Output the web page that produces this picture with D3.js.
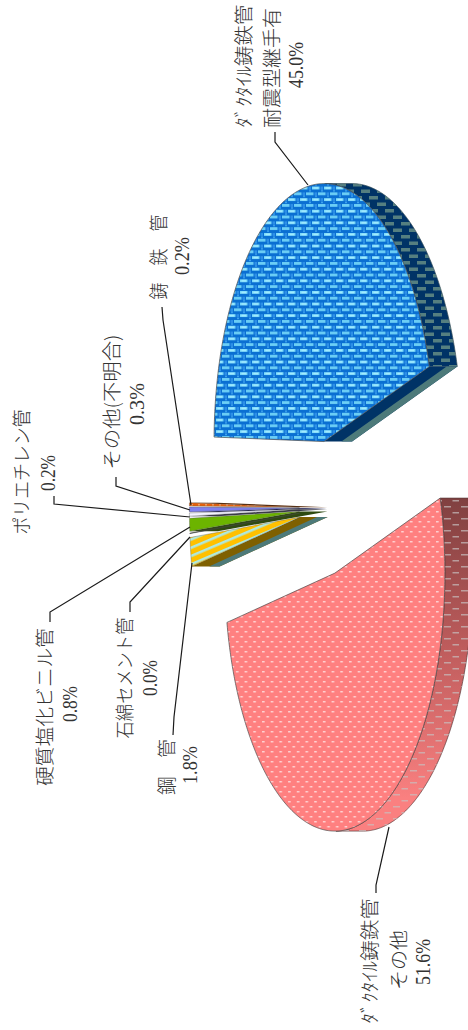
<!DOCTYPE html>
<html><head><meta charset="utf-8">
<script src="https://cdn.jsdelivr.net/npm/d3@7"></script>
<style>html,body{margin:0;padding:0;background:#fff}svg{display:block}</style>
</head><body><div id="chart"></div>
<script>
// ---- data ----
const categories = ["ﾀﾞｸﾀｲﾙ鋳鉄管その他","鋼管","石綿セメント管","硬質塩化ビニル管","ポリエチレン管","その他(不明合)","鋳鉄管","ﾀﾞｸﾀｲﾙ鋳鉄管耐震型継手有"];
const shares = [51.6,1.8,0.04,0.8,0.2,0.3,0.2,45.0];
const shareLabels = ["51.6%","1.8%","0.0%","0.8%","0.2%","0.3%","0.2%","45.0%"];

// ---- layout (separate from data) ----
const W=468,H=1030;
const center={x:328,y:508}, radiusX=110, radiusY=258, explode=0.26, depth=28;
const startDeg=73.1;
const sx=d3.scaleLinear().domain([-1,1]).range([center.x-radiusX,center.x+radiusX]);
const sy=d3.scaleLinear().domain([-1,1]).range([center.y-radiusY,center.y+radiusY]);
const faceFill=["url(#pPink)","url(#pYellow)","#333","#6CB400","#f4f4ff","#8080F0","url(#pOrange)","url(#pBlue)"];
const wallFill=["url(#pinkWall)","#7F6000","#222","#2f4a10","#3a3a48","#1c1c50","#5a2a08","url(#pBlueWall)"];
const cutFar=[null,"#4D7A7A",null,null,null,null,null,"#4D7A7A"];
const cutNear=[null,"#7F6000",null,"#2f4a10","#3a3a48","#1c1c50","#5a2a08","#003366"];
// label lines: [text, x centre, y centre, length]
const labelLines=[
 [["ﾀﾞｸﾀｲﾙ鋳鉄管",368,961,125],["その他",397,960,60],[null,423,962,46]],
 [["鋼　管",165,767,56],[null,190,765,38]],
 [["石綿セメント管",123,678,121],[null,150,678,36]],
 [["硬質塩化ビニル管",43,707,158],[null,70,704,36]],
 [["ポリエチレン管",20,472,125],[null,48,473,36]],
 [["その他(不明合)",110,402,135],[null,137,404,42]],
 [["鋳　鉄　管",157,257,85],[null,182,256,38]],
 [["ﾀﾞｸﾀｲﾙ鋳鉄管",242,66,123],["耐震型継手有",270,68,120],[null,296,65,46]]
];
// leader polylines
const leaders=[
 [[376,893],[376,885],[389,827]],
 [[173,735],[174,717],[192,563]],
 [[130,612],[130,602],[190,537]],
 [[50,622],[50,612],[190,527]],
 [[54,496],[54,504],[190,517]],
 [[116,477],[116,486],[190,510]],
 [[162,307],[163,320],[191,505]],
 [[275,132],[275,142],[308,185]]
];

const svg=d3.select("#chart").append("svg").attr("width",W).attr("height",H).attr("viewBox",`0 0 ${W} ${H}`);
const defs=svg.append("defs");

function pattern(id,w,h,base,rects,transform){
  const p=defs.append("pattern").attr("id",id).attr("patternUnits","userSpaceOnUse").attr("width",w).attr("height",h);
  if(transform)p.attr("patternTransform",transform);
  if(base)p.append("rect").attr("width",w).attr("height",h).attr("fill",base);
  rects.forEach(r=>p.append("rect").attr("x",r[0]).attr("y",r[1]).attr("width",r[2]).attr("height",r[3]).attr("fill",r[4]).attr("opacity",r[5]==null?1:r[5]));
}
pattern("pPink",8.7,10,"#FF8080",[[1,1,2.6,1.5,"#ffd0d0"],[5.35,6,2.6,1.5,"#ffd0d0"]]);
pattern("pBlue",12,11.6,"#0A6FD2",[[0,1,7.5,2.8,"#7FDDFB"],[1.5,1.6,4.5,1.6,"#A4ECFF"],[6,6.8,7.5,2.8,"#6CCFF6"],[-6,6.8,7.5,2.8,"#6CCFF6"],[8.5,1,2.5,2.8,"#2E90E8"],[2.5,6.8,2.5,2.8,"#2E90E8"],[9,4.4,2,1.6,"#3FA4EE"],[3,10,2,1.4,"#3FA4EE"]]);
pattern("pBlueWall",16,13,"#003366",[[1,1,9,3.5,"#557F80"],[9,7.5,9,3.5,"#557F80"],[-7,7.5,9,3.5,"#557F80"]]);
pattern("pYellow",10,7.6,"#FFC000",[[0,0,10,2.5,"#AEE9E0"]],"rotate(-23)");
pattern("pOrange",7,3.4,"#E8620C",[[2,1,2,1.2,"#f2a870"]]);
pattern("pDash",17,12,null,[[2,2,7,1.5,"#c8c0c0",.7],[10.5,8,7,1.5,"#c8c0c0",.7]]);
const g=defs.append("linearGradient").attr("id","pinkWallGrad").attr("gradientUnits","userSpaceOnUse")
  .attr("x1",0).attr("x2",0).attr("y1",center.y-10).attr("y2",center.y+290);
g.append("stop").attr("offset",0).attr("stop-color","#804040");
g.append("stop").attr("offset",.5).attr("stop-color","#BE5C5C");
g.append("stop").attr("offset",1).attr("stop-color","#FA8080");

const pie=d3.pie().sort(null).startAngle(startDeg*Math.PI/180).endAngle((startDeg+360)*Math.PI/180);
const arcs=pie(shares);
const line=d3.line();

function geom(a){
  const t0=a.startAngle-Math.PI/2,t1=a.endAngle-Math.PI/2,m=(t0+t1)/2;
  const off=[explode*Math.cos(m),explode*Math.sin(m)];
  const P=(t,r=1,d=0)=>[sx(r*Math.cos(t)+off[0])+d,sy(r*Math.sin(t)+off[1])];
  return {t0,t1,P};
}
const sample=(a,b)=>{const n=Math.max(2,Math.ceil(Math.abs(b-a)/0.01));return d3.range(n+1).map(i=>a+(b-a)*i/n);};
const layer=svg.append("g");
const draw=(pts,fill,stroke,sw)=>layer.append("path").attr("d",line(pts)+"Z").attr("fill",fill)
   .attr("stroke",stroke||"none").attr("stroke-width",stroke?(sw||0.7):0).attr("stroke-linejoin","round");

// paint order: blue, pink, then narrow slices top to bottom
const order=[7,0,6,5,4,3,2,1];
order.forEach(i=>{
  const {t0,t1,P}=geom(arcs[i]);
  const big=shares[i]>10;
  // outer wall: portion of the rim that faces the viewer
  const ts=sample(t0,t1).filter(t=>Math.cos(t)>=0);
  if(ts.length>1){
    const poly=ts.map(t=>P(t)).concat(ts.slice().reverse().map(t=>P(t,1,depth)));
    if(i===0){
      draw(poly,"url(#pinkWallGrad)","#5a3a3a");
      draw(poly,"url(#pDash)");
    } else draw(poly,wallFill[i],"#39505a");
  }
  // radial cut walls
  [[t0,t0-Math.PI/2],[t1,t1+Math.PI/2]].forEach(([t,nrm])=>{
    if(Math.cos(nrm)>0.001 && cutNear[i]){
      draw([P(t,0),P(t,1),P(t,1,depth),P(t,0,depth)],cutNear[i],null);
      if(cutFar[i])draw([P(t,0,depth*.62),P(t,1,depth*.62),P(t,1,depth),P(t,0,depth)],cutFar[i],null);
    }
  });
  // top face
  draw([P(t0,0)].concat(sample(t0,t1).map(t=>P(t))),faceFill[i],"#4a4a4a",big?0.7:0.35);
});

// leaders
svg.append("g").selectAll("path").data(leaders).join("path")
  .attr("d",d=>line(d)).attr("fill","none").attr("stroke","#1a1a1a").attr("stroke-width",1.2);

// labels
const tg=svg.append("g").attr("fill","#333");
labelLines.forEach((lines,i)=>{
  lines.forEach(([txt,x,y,len])=>{
    const num=txt===null;
    tg.append("text").text(num?shareLabels[i]:txt)
      .attr("transform",`translate(${x},${y}) rotate(-90)`)
      .attr("text-anchor","middle").attr("dominant-baseline","central")
      .attr("font-family",num?"'Liberation Serif',serif":"'Noto Sans CJK JP',sans-serif")
      .attr("font-weight",num?400:300)
      .attr("font-size",num?21:19)
      .attr("textLength",len).attr("lengthAdjust","spacingAndGlyphs");
  });
});
</script></body></html>
